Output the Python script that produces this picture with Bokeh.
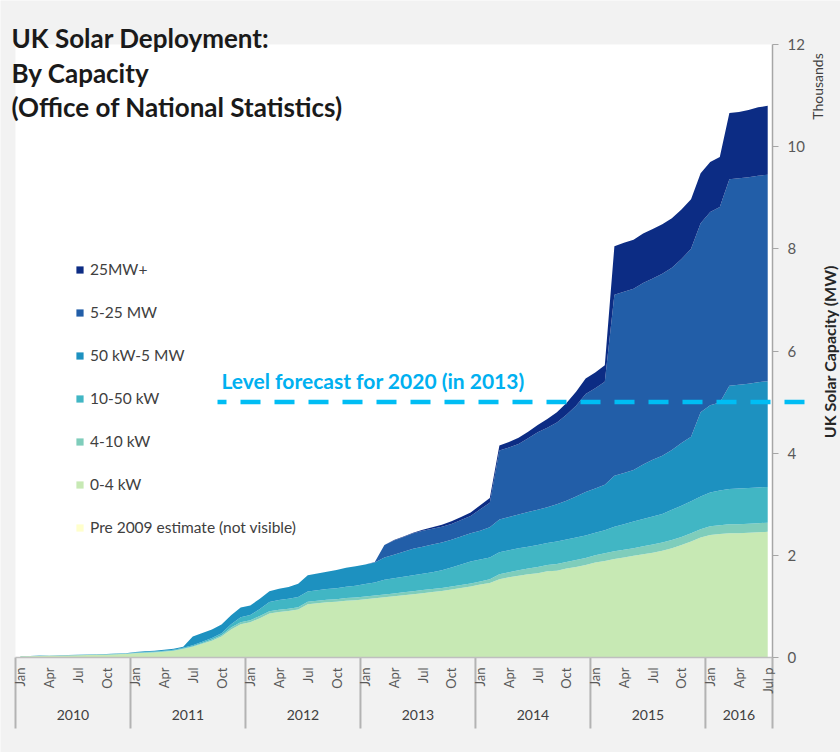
import math
from bokeh.plotting import figure
from bokeh.models import (ColumnDataSource, Range1d, LinearAxis, FixedTicker,
                          Legend, LegendItem, Label, BoxAnnotation)
from bokeh.core.properties import value
from bokeh.embed import file_html
from bokeh.resources import INLINE

# ---------------- data (thousands of MW), monthly Jan 2010 - Jul 2016
years = [2010, 2011, 2012, 2013, 2014, 2015, 2016]
months_in_year = [12, 12, 12, 12, 12, 12, 7]
month_names = ["Jan", "Feb", "Mar", "Apr", "May", "Jun",
               "Jul", "Aug", "Sep", "Oct", "Nov", "Dec"]
shown_months = ["Jan", "Apr", "Jul", "Oct"]
last_label = "Jul p"

series_names = ["Pre 2009 estimate (not visible)", "0-4 kW", "4-10 kW",
                "10-50 kW", "50 kW-5 MW", "5-25 MW", "25MW+"]
series_colors = ["#ffffcc", "#c7e9b4", "#7fcdbb", "#41b6c4",
                 "#1d91c0", "#225ea8", "#0c2c84"]

pre_2009 = [0.0] * 79

kw_0_4 = [0.025, 0.026, 0.030, 0.032, 0.036, 0.040, 0.044, 0.048, 0.052, 0.056, 0.062, 0.068,
          0.085, 0.092, 0.10, 0.115, 0.13, 0.165, 0.21, 0.27, 0.33, 0.41, 0.55, 0.65,
          0.69, 0.77, 0.86, 0.89, 0.91, 0.94, 1.04, 1.06, 1.08, 1.09, 1.11, 1.12,
          1.14, 1.16, 1.18, 1.20, 1.22, 1.24, 1.26, 1.28, 1.30, 1.33, 1.36, 1.39,
          1.43, 1.46, 1.53, 1.57, 1.60, 1.63, 1.65, 1.69, 1.70, 1.74, 1.77, 1.81,
          1.86, 1.89, 1.93, 1.96, 1.99, 2.02, 2.05, 2.09, 2.14, 2.20, 2.27, 2.35,
          2.40, 2.42, 2.43, 2.43, 2.44, 2.45, 2.46]

kw_4_10 = [0.001, 0.001, 0.001, 0.002, 0.002, 0.002, 0.002, 0.002, 0.003, 0.003, 0.003, 0.003,
           0.005, 0.005, 0.006, 0.007, 0.008, 0.010, 0.012, 0.015, 0.02, 0.025, 0.035, 0.04,
           0.04, 0.04, 0.045, 0.045, 0.045, 0.045, 0.05, 0.05, 0.05, 0.05, 0.055, 0.055,
           0.055, 0.055, 0.055, 0.055, 0.055, 0.055, 0.06, 0.06, 0.06, 0.06, 0.06, 0.06,
           0.06, 0.07, 0.10, 0.10, 0.11, 0.11, 0.12, 0.12, 0.13, 0.13, 0.14, 0.14,
           0.14, 0.15, 0.15, 0.15, 0.15, 0.16, 0.16, 0.16, 0.16, 0.16, 0.16, 0.16,
           0.17, 0.17, 0.18, 0.18, 0.18, 0.18, 0.18]

kw_10_50 = [0.002, 0.002, 0.003, 0.003, 0.003, 0.004, 0.004, 0.005, 0.005, 0.005, 0.006, 0.006,
            0.008, 0.009, 0.010, 0.012, 0.014, 0.016, 0.02, 0.025, 0.03, 0.04, 0.065, 0.10,
            0.10, 0.14, 0.18, 0.19, 0.195, 0.20, 0.20, 0.205, 0.21, 0.215, 0.22, 0.23,
            0.245, 0.255, 0.285, 0.295, 0.305, 0.315, 0.32, 0.33, 0.35, 0.37, 0.40, 0.43,
            0.43, 0.43, 0.43, 0.43, 0.43, 0.43, 0.43, 0.43, 0.44, 0.44, 0.44, 0.44,
            0.44, 0.45, 0.48, 0.50, 0.52, 0.53, 0.55, 0.56, 0.59, 0.61, 0.63, 0.64,
            0.66, 0.68, 0.69, 0.70, 0.70, 0.70, 0.70]

kw_50_mw_5 = [0.002, 0.002, 0.003, 0.003, 0.004, 0.004, 0.005, 0.005, 0.005, 0.006, 0.006, 0.008,
              0.012, 0.014, 0.014, 0.016, 0.018, 0.019, 0.168, 0.17, 0.17, 0.17, 0.175, 0.19,
              0.19, 0.20, 0.21, 0.22, 0.23, 0.26, 0.32, 0.33, 0.34, 0.36, 0.37, 0.38,
              0.38, 0.39, 0.44, 0.46, 0.49, 0.52, 0.53, 0.54, 0.54, 0.545, 0.55, 0.55,
              0.56, 0.59, 0.64, 0.65, 0.66, 0.68, 0.69, 0.70, 0.73, 0.76, 0.80, 0.85,
              0.87, 0.89, 1.00, 1.00, 1.01, 1.07, 1.11, 1.14, 1.17, 1.23, 1.26, 1.65,
              1.71, 1.72, 2.02, 2.03, 2.04, 2.06, 2.07]

mw_5_25 = [0, 0, 0, 0, 0, 0, 0, 0, 0, 0, 0, 0,
           0, 0, 0, 0, 0, 0, 0, 0, 0, 0, 0, 0,
           0, 0, 0, 0, 0, 0, 0, 0, 0, 0, 0, 0,
           0, 0.01, 0.24, 0.28, 0.29, 0.30, 0.31, 0.31, 0.31, 0.31, 0.32, 0.34,
           0.42, 0.48, 1.35, 1.36, 1.38, 1.44, 1.52, 1.56, 1.60, 1.68, 1.78, 1.92,
           1.96, 2.02, 3.54, 3.55, 3.55, 3.55, 3.55, 3.56, 3.57, 3.60, 3.68, 3.70,
           3.78, 3.83, 4.04, 4.04, 4.04, 4.04, 4.04]

mw_25_plus = [0, 0, 0, 0, 0, 0, 0, 0, 0, 0, 0, 0,
              0, 0, 0, 0, 0, 0, 0, 0, 0, 0, 0, 0,
              0, 0, 0, 0, 0, 0, 0, 0, 0, 0, 0, 0,
              0, 0, 0, 0.01, 0.01, 0.01, 0.02, 0.03, 0.04, 0.05, 0.06, 0.07,
              0.08, 0.09, 0.10, 0.11, 0.12, 0.13, 0.14, 0.17, 0.20, 0.23, 0.27, 0.30,
              0.31, 0.32, 0.95, 0.96, 0.96, 0.97, 0.97, 0.97, 0.97, 0.97, 0.97, 0.98,
              0.98, 0.98, 1.30, 1.30, 1.32, 1.34, 1.35]

y_ticks = [0, 2, 4, 6, 8, 10, 12]
y_max = 12
forecast_level = 5.0
forecast_text = "Level forecast for 2020 (in 2013)"
title_lines = ["UK Solar Deployment:", "By Capacity", "(Office of National Statistics)"]
y_label_units = "Thousands"
y_label = "UK Solar Capacity (MW)"

# ---------------- layout (pixels of the 840x752 canvas)
W, H = 840, 752
PLOT_L, PLOT_R, PLOT_T, PLOT_B = 15, 772, 44, 657

periods = []
for yr, cnt in zip(years, months_in_year):
    for m in range(cnt):
        periods.append((yr, month_names[m]))
n = len(periods)
xs = [i + 0.5 for i in range(n)]

ppx = (PLOT_R - PLOT_L) / n          # pixels per month
ppy = (PLOT_B - PLOT_T) / y_max      # pixels per thousand MW


def X(px):
    return (px - PLOT_L) / ppx


def Y(py):
    return (PLOT_B - py) / ppy


keys = ["pre", "g", "a", "b", "c", "d", "e"]
source = ColumnDataSource(dict(x=xs, pre=pre_2009, g=kw_0_4, a=kw_4_10, b=kw_10_50,
                               c=kw_50_mw_5, d=mw_5_25, e=mw_25_plus))

label_ticks = []
overrides = {}
for i, (yr, mo) in enumerate(periods):
    if mo in shown_months:
        label_ticks.append(i + 0.5)
        overrides[i + 0.5] = mo
if (n - 0.5) not in label_ticks:
    label_ticks.append(n - 0.5)
overrides[n - 0.5] = last_label

year_edges = [0]
for cnt in months_in_year:
    year_edges.append(year_edges[-1] + cnt)
year_centers = [(year_edges[k] + year_edges[k + 1]) / 2 for k in range(len(years))]
year_overrides = {c: str(y) for c, y in zip(year_centers, years)}

FONT = "Lato"
GREY_TXT = "#595959"
AXIS_GREY = "#a6a6a6"

p = figure(width=W, height=H, min_border=0,
           x_range=Range1d(X(0), X(W)), y_range=Range1d(Y(H), Y(0)),
           output_backend="svg", toolbar_location=None,
           x_axis_type=None, y_axis_type=None,
           background_fill_color="#f2f2f2", border_fill_color="#f2f2f2",
           outline_line_color=None)
p.grid.visible = False

# white plot area
p.add_layout(BoxAnnotation(left=0, right=n, bottom=0, top=y_max, fill_color="white",
                           fill_alpha=1, line_color=None, level="underlay"))

renderers = p.varea_stack(stackers=keys, x="x", color=series_colors, source=source)

# right value axis, fixed at the end of the time range
yax = LinearAxis(fixed_location=n, ticker=FixedTicker(ticks=y_ticks), bounds=(0, y_max))
yax.axis_line_color = AXIS_GREY
yax.axis_line_width = 1.5
yax.major_tick_line_color = AXIS_GREY
yax.major_tick_in = 0
yax.major_tick_out = 6
yax.minor_tick_line_color = None
yax.major_label_standoff = 9
yax.major_label_text_font = FONT
yax.major_label_text_font_size = "15px"
yax.major_label_text_color = GREY_TXT
p.add_layout(yax, "right")

# bottom month axis
month_axis = LinearAxis(fixed_location=0, ticker=FixedTicker(ticks=label_ticks),
                        major_label_overrides=overrides, bounds=(0, n))
month_axis.major_label_orientation = math.pi / 2
month_axis.axis_line_color = "#bfbfbf"
month_axis.axis_line_width = 1.5
month_axis.major_tick_line_color = None
month_axis.minor_tick_line_color = None
month_axis.major_tick_in = 0
month_axis.major_tick_out = 0
month_axis.major_label_standoff = 10
month_axis.major_label_text_font = FONT
month_axis.major_label_text_font_size = "13px"
month_axis.major_label_text_color = GREY_TXT
p.add_layout(month_axis, "below")

# year group labels
year_axis = LinearAxis(fixed_location=0, ticker=FixedTicker(ticks=year_centers),
                       major_label_overrides=year_overrides)
year_axis.axis_line_color = None
year_axis.major_tick_line_color = None
year_axis.minor_tick_line_color = None
year_axis.major_tick_in = 0
year_axis.major_tick_out = 0
year_axis.major_label_standoff = 52
year_axis.major_label_text_font = FONT
year_axis.major_label_text_font_size = "14px"
year_axis.major_label_text_color = "#404040"
p.add_layout(year_axis, "below")

# year separators below the axis
sep_bottom = Y(728)
p.segment(x0=year_edges, y0=[0] * len(year_edges), x1=year_edges,
          y1=[sep_bottom] * len(year_edges), line_color="#b3b3b3", line_width=2)

# forecast line and its label
p.segment(x0=[X(217)], y0=[forecast_level], x1=[X(814)], y1=[forecast_level],
          line_color="#00bdf4", line_width=4.5, line_dash="20 14", line_dash_offset=11)
p.text(x=[X(221)], y=[Y(392)], text=[forecast_text],
       text_font=value(FONT), text_font_style="bold", text_font_size="21px",
       text_color="#00b0f0", text_baseline="bottom", text_align="left")

# title
for t, py in zip(title_lines, [37, 72, 106]):
    p.add_layout(Label(x=X(11), y=Y(py), text=t, text_font=FONT, text_font_style="bold",
                       text_font_size="26px", text_color="#1a1a1a",
                       text_baseline="middle", text_align="left"))

# right axis titles
p.add_layout(Label(x=X(817), y=Y(86), text=y_label_units, angle=math.pi / 2,
                   text_font=FONT, text_font_size="14px", text_color="#404040",
                   text_baseline="middle", text_align="center"))
p.add_layout(Label(x=X(829), y=Y(351), text=y_label, angle=math.pi / 2,
                   text_font=FONT, text_font_style="bold", text_font_size="16px",
                   text_color="#262626", text_baseline="middle", text_align="center"))

# legend (top item = top of stack)
items = [LegendItem(label=nm, renderers=[r]) for nm, r in zip(series_names, renderers)]
legend = Legend(items=list(reversed(items)), location=(75, 216))
legend.glyph_width = 9
legend.glyph_height = 9
legend.label_height = 17
legend.spacing = 25
legend.padding = 0
legend.margin = 0
legend.label_standoff = 6
legend.border_line_color = None
legend.background_fill_alpha = 0
legend.label_text_font = FONT
legend.label_text_font_size = "15.5px"
legend.label_text_color = "#404040"
p.add_layout(legend, "center")

html = file_html(p, INLINE, title="UK Solar Deployment")
html = html.replace("<body>", '<body style="background-color:#f2f2f2;">', 1)
open("out.html", "w").write(html)
